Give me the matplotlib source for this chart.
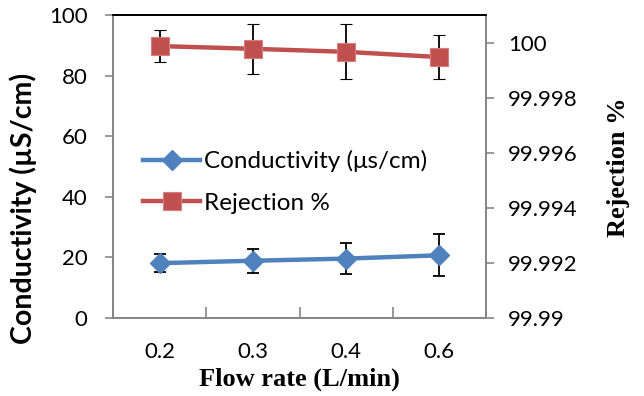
import numpy as np
import matplotlib
matplotlib.use("Agg")
import matplotlib.pyplot as plt
from matplotlib.lines import Line2D
from matplotlib.ticker import FuncFormatter

# data
flow_rates = ["0.2", "0.3", "0.4", "0.6"]
conductivity = [18.1, 18.9, 19.6, 20.7]
conductivity_err = [3.0, 4.0, 5.0, 7.0]
rejection = [99.99989, 99.99979, 99.99968, 99.99949]
rejection_err = [0.00059, 0.0009, 0.001, 0.0008]
left_ticks = [0, 20, 40, 60, 80, 100]
right_ticks = [99.99, 99.992, 99.994, 99.996, 99.998, 100.0]

BLUE = "#4F81BD"
RED = "#C0504D"
GRAY = "#868686"
SANS = "Lato"
SERIF = "Liberation Serif"

plt.rcParams["font.family"] = [SANS, "DejaVu Sans"]

W, H = 644, 396
fig = plt.figure(figsize=(W / 100, H / 100), dpi=100)
ax1 = fig.add_axes([113 / W, 1 - 318 / H, (486 - 113) / W, (318 - 15) / H])
ax2 = ax1.twinx()

x = np.arange(len(flow_rates))

blue_style = dict(color=BLUE, linewidth=3.2, marker="D", markersize=10.5,
                  markerfacecolor=BLUE, markeredgecolor=BLUE)
red_style = dict(color=RED, linewidth=3.2, marker="s", markersize=13.5,
                 markerfacecolor=RED, markeredgecolor="#D47F7D", markeredgewidth=0.8)
err_style = dict(ecolor="black", elinewidth=1.3, capsize=4, capthick=1.3)

ax1.errorbar(x, conductivity, yerr=conductivity_err, **blue_style, **err_style)
ax2.errorbar(x, rejection, yerr=rejection_err, **red_style, **err_style)

ax1.set_xlim(-0.5, len(flow_rates) - 0.5)
ax1.set_ylim(0, 100)
ax1.set_yticks(left_ticks)
ax2.set_ylim(99.99, 100.00102)
ax2.set_yticks(right_ticks)
ax2.yaxis.set_major_formatter(FuncFormatter(lambda v, p: "%g" % round(v, 4)))

# category labels centred, tick marks between categories (Excel style)
ax1.set_xticks(np.arange(len(flow_rates) + 1) - 0.5)
ax1.set_xticklabels([])
ax1.set_xticks(x, minor=True)
ax1.set_xticklabels(flow_rates, minor=True)
ax1.tick_params(axis="x", which="minor", length=0, labelsize=16, pad=17)
ax1.tick_params(axis="x", which="major", direction="in", length=8, color=GRAY, width=1.2)

ax1.tick_params(axis="y", direction="out", length=6, color=GRAY, width=1.2,
                labelsize=16, pad=12.4)
ax2.tick_params(axis="y", direction="out", length=6, color=GRAY, width=1.2,
                labelsize=16, pad=10)

for ax in (ax1, ax2):
    for side in ("left", "right", "bottom"):
        ax.spines[side].set_color(GRAY)
        ax.spines[side].set_linewidth(1.3)
    ax.spines["top"].set_color("black")
    ax.spines["top"].set_linewidth(1.3)

ax1.set_ylabel("Conductivity (\u00b5S/cm)", fontsize=20.5, fontweight="bold")
ax1.yaxis.set_label_coords(-0.204, 0.36)
ax1.set_xlabel("Flow rate (L/min)", fontsize=19, fontweight="bold", family=SERIF)
ax1.xaxis.set_label_coords(0.499, -0.163)
ax2.set_ylabel("Rejection %", fontsize=19, fontweight="bold", family=SERIF)
ax2.yaxis.set_label_coords(1.324, 0.497)

handles = [
    Line2D([], [], **blue_style, label="Conductivity (\u03bcs/cm)"),
    Line2D([], [], **red_style, label="Rejection %"),
]
ax2.legend(
    handles=handles, loc="upper left",
    bbox_to_anchor=(143 / W, 1 - 150 / H), bbox_transform=fig.transFigure,
    frameon=False, fontsize=17.5, handlelength=2.35, handletextpad=0.15,
    labelspacing=0.85, borderaxespad=0, borderpad=0,
)

fig.savefig("out.png", dpi=100)
